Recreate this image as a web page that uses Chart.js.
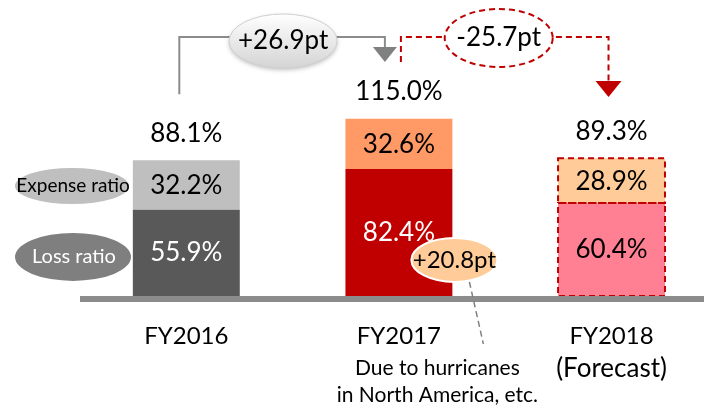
<!DOCTYPE html>
<html>
<head>
<meta charset="utf-8">
<script src="https://cdn.jsdelivr.net/npm/chart.js@4"></script>
<style>
  html, body { margin: 0; padding: 0; background: #fff; }
  #wrap { width: 704px; height: 405px; position: relative; }
</style>
</head>
<body>
<div id="wrap"><canvas id="ratioChart"></canvas></div>
<script>
// Combined ratio breakdown by fiscal year
const categories = ['FY2016', 'FY2017', 'FY2018'];
const categorySubLabels = ['', '', '(Forecast)'];
const lossRatio = [55.9, 82.4, 60.4];
const expenseRatio = [32.2, 32.6, 28.9];
const combinedRatio = [88.1, 115.0, 89.3];
const yearChanges = ['+26.9pt', '-25.7pt'];
const lossChange = '+20.8pt';
const lossChangeNote = ['Due to hurricanes', 'in North America, etc.'];

const lossColors = ['#595959', '#c00000', '#ff8093'];
const expenseColors = ['#bfbfbf', '#ff9966', '#ffcc99'];
const lossTextColors = ['#ffffff', '#ffffff', '#000000'];

const FONT = 'Lato, "Open Sans", sans-serif';

function ellipse(ctx, cx, cy, rx, ry) {
    ctx.beginPath();
    ctx.ellipse(cx, cy, rx, ry, 0, 0, Math.PI * 2);
}

function arrowHead(ctx, x, y, w, h, color) {
    ctx.beginPath();
    ctx.moveTo(x - w / 2, y);
    ctx.lineTo(x + w / 2, y);
    ctx.lineTo(x, y + h);
    ctx.closePath();
    ctx.fillStyle = color;
    ctx.fill();
}

// Draws labels, the baseline, the legend ovals and the change call-outs
const decorations = {
    id: 'decorations',
    afterDatasetsDraw(chart) {
        const ctx = chart.ctx;
        const area = chart.chartArea;
        const x = chart.scales.x;
        const y = chart.scales.y;
        const lossMeta = chart.getDatasetMeta(0);
        const expMeta = chart.getDatasetMeta(1);
        const base = y.getPixelForValue(0);

        ctx.save();

        // dashed outline on the forecast bar
        const fl = lossMeta.data[2];
        const fe = expMeta.data[2];
        ctx.strokeStyle = '#c00000';
        ctx.lineWidth = 2;
        ctx.setLineDash([6, 4]);
        [fl, fe].forEach(bar => {
            const half = bar.width / 2;
            ctx.strokeRect(bar.x - half, bar.y, bar.width, bar.base - bar.y);
        });
        ctx.setLineDash([]);

        // baseline
        ctx.fillStyle = '#8c8c8c';
        ctx.fillRect(area.left, base, chart.width - area.left, 6);

        // values inside the segments
        ctx.textAlign = 'center';
        ctx.textBaseline = 'middle';
        ctx.font = '26px ' + FONT;
        categories.forEach((c, i) => {
            const lb = lossMeta.data[i];
            const eb = expMeta.data[i];
            ctx.fillStyle = lossTextColors[i];
            ctx.fillText(lossRatio[i].toFixed(1) + '%', lb.x, (lb.y + lb.base) / 2);
            ctx.fillStyle = '#000';
            ctx.fillText(expenseRatio[i].toFixed(1) + '%', eb.x, (eb.y + eb.base) / 2 + 1);
            // combined total above the bar
            ctx.fillText(combinedRatio[i].toFixed(1) + '%', eb.x, y.getPixelForValue(combinedRatio[i]) - 27);
        });

        // category labels
        ctx.fillStyle = '#000';
        categories.forEach((c, i) => {
            const px = x.getPixelForValue(i);
            ctx.font = '24px ' + FONT;
            ctx.fillText(c, px, base + 40);
            ctx.font = '26px ' + FONT;
            if (categorySubLabels[i]) ctx.fillText(categorySubLabels[i], px, base + 73);
        });

        // legend ovals at the left
        const eMid = (expMeta.data[0].y + expMeta.data[0].base) / 2;
        const lMid = (lossMeta.data[0].y + lossMeta.data[0].base) / 2;
        ellipse(ctx, 72, eMid + 1, 57, 18);
        ctx.fillStyle = '#bfbfbf';
        ctx.fill();
        ellipse(ctx, 73, lMid + 4, 58, 24);
        ctx.fillStyle = '#7f7f7f';
        ctx.fill();
        ctx.font = '19px ' + FONT;
        ctx.fillStyle = '#000';
        ctx.fillText('Expense ratio', 73, eMid + 1);
        ctx.font = '20px ' + FONT;
        ctx.fillStyle = '#fff';
        ctx.fillText('Loss ratio', 74, lMid + 4);

        // +26.9pt bracket (grey)
        const topY = 37;
        const g0 = x.getPixelForValue(0) - 7;
        const g1 = x.getPixelForValue(1) - 14;
        ctx.strokeStyle = '#8c8c8c';
        ctx.lineWidth = 2;
        ctx.beginPath();
        ctx.moveTo(g0, y.getPixelForValue(combinedRatio[0]) - 66);
        ctx.lineTo(g0, topY);
        ctx.lineTo(g1, topY);
        ctx.lineTo(g1, 48);
        ctx.stroke();
        arrowHead(ctx, g1, 47, 24, 15, '#808080');

        // -25.7pt bracket (red dashed)
        const r0 = x.getPixelForValue(1) + 2;
        const r1 = x.getPixelForValue(2) - 3;
        ctx.strokeStyle = '#c00000';
        ctx.setLineDash([6, 4]);
        ctx.beginPath();
        ctx.moveTo(r0, 62);
        ctx.lineTo(r0, topY);
        ctx.lineTo(r1, topY);
        ctx.lineTo(r1, 82);
        ctx.stroke();
        ctx.setLineDash([]);
        arrowHead(ctx, r1, 81, 26, 16, '#c00000');

        // change ovals
        const gcx = (g0 + g1) / 2 + 1;
        const grad = ctx.createLinearGradient(0, 14, 0, 68);
        grad.addColorStop(0, '#ffffff');
        grad.addColorStop(1, '#d4d4d4');
        ctx.shadowColor = 'rgba(0,0,0,0.25)';
        ctx.shadowBlur = 4;
        ctx.shadowOffsetY = 2;
        ellipse(ctx, gcx, 41, 54, 27);
        ctx.fillStyle = grad;
        ctx.fill();
        ctx.shadowColor = 'transparent';
        ctx.strokeStyle = '#d0d0d0';
        ctx.lineWidth = 1;
        ctx.stroke();

        const rcx = (r0 + r1) / 2 - 6;
        ellipse(ctx, rcx, 38, 54, 29);
        ctx.fillStyle = '#fff';
        ctx.fill();
        ctx.strokeStyle = '#c00000';
        ctx.lineWidth = 2;
        ctx.setLineDash([6, 4]);
        ctx.stroke();
        ctx.setLineDash([]);

        ctx.fillStyle = '#000';
        ctx.font = '26px ' + FONT;
        ctx.fillText(yearChanges[0], gcx, 41);
        ctx.fillText(yearChanges[1], rcx, 38);

        // loss ratio increase call-out
        const lb = lossMeta.data[1];
        const ox = lb.x + lb.width / 2 + 2;
        const oy = y.getPixelForValue(lossRatio[1] - 59);
        ctx.strokeStyle = '#808080';
        ctx.lineWidth = 1.5;
        ctx.setLineDash([6, 4]);
        ctx.beginPath();
        ctx.moveTo(ox + 15, oy + 22);
        ctx.lineTo(ox + 29, base + 48);
        ctx.stroke();
        ctx.setLineDash([]);
        ellipse(ctx, ox, oy, 43, 22);
        ctx.fillStyle = '#ffcc99';
        ctx.fill();
        ctx.strokeStyle = '#fff';
        ctx.lineWidth = 2;
        ctx.stroke();
        ctx.fillStyle = '#000';
        ctx.font = '24px ' + FONT;
        ctx.fillText(lossChange, ox, oy);

        ctx.font = '21px ' + FONT;
        ctx.fillText(lossChangeNote[0], ox - 17, base + 72);
        ctx.fillText(lossChangeNote[1], ox - 17, base + 99);

        ctx.restore();
    }
};

new Chart(document.getElementById('ratioChart'), {
    type: 'bar',
    data: {
        datasets: [
            {
                label: 'Loss ratio',
                data: lossRatio.map((v, i) => ({ x: i, y: v })),
                backgroundColor: lossColors
            },
            {
                label: 'Expense ratio',
                data: expenseRatio.map((v, i) => ({ x: i, y: v })),
                backgroundColor: expenseColors
            }
        ]
    },
    options: {
        responsive: true,
        maintainAspectRatio: false,
        animation: false,
        layout: { padding: { left: 80, right: 0, top: 0, bottom: 109 } },
        barPercentage: 0.503,
        categoryPercentage: 1,
        scales: {
            x: {
                type: 'linear',
                stacked: true,
                display: false,
                offset: false,
                min: -0.5,
                max: 2.435,
                afterBuildTicks: scale => {
                    scale.ticks = categories.map((c, i) => ({ value: i }));
                }
            },
            y: {
                stacked: true,
                display: false,
                min: 0,
                max: 192
            }
        },
        plugins: {
            legend: { display: false },
            tooltip: { enabled: false }
        }
    },
    plugins: [decorations]
});
</script>
</body>
</html>
